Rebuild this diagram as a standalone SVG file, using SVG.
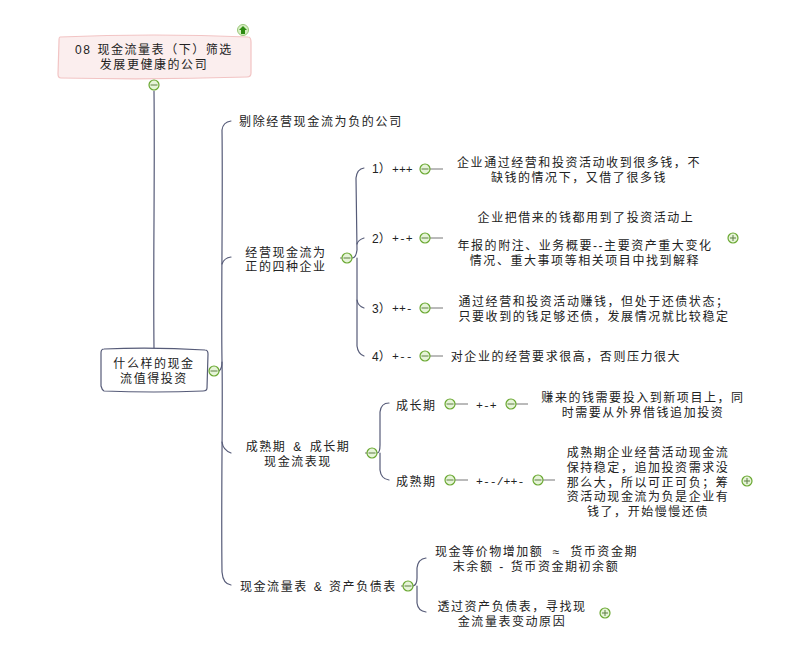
<svg xmlns="http://www.w3.org/2000/svg" width="800" height="658" viewBox="0 0 800 658">
<style>
text{font-family:"Liberation Sans","Noto Sans CJK SC",sans-serif;font-size:12px;letter-spacing:1.55px;fill:#222;text-anchor:middle}
.l{text-anchor:start}
.p{font-family:"Liberation Mono",monospace;font-size:11.5px;letter-spacing:0}
.c{fill:none;stroke:#565b78;stroke-width:1.2;stroke-linecap:round}
.t{fill:none;stroke:#777;stroke-width:1}
.i{fill:#e6f4d8;stroke:#6aa832;stroke-width:1.2}
.m{stroke:#5f7f45;stroke-width:1;fill:none}
</style>
<defs>
<g id="minus"><circle class="i" r="5"/><path class="m" d="M-3.5 0H3.5"/></g>
<g id="plus"><circle class="i" r="5"/><path class="m" d="M-3 0H3M0-3V3" stroke="#4c8f1c"/></g>
</defs>
<g id="connectors">
<path class="c" d="M154 91C155 180 153 260 154 349"/>
<path class="c" d="M219 371Q222 369 222 362C221 300 223 200 222 130Q223 122 231 121"/>
<path class="c" d="M222 362C223 400 221 500 222 572Q223 584 231 585"/>
<path class="c" d="M222 264Q224 258 231 257"/>
<path class="c" d="M222 442Q223 450 231 453"/>
<path class="c" d="M352 258Q356 258 357 250L356 178Q357 169 364 168"/>
<path class="c" d="M357 244Q358 240 364 238"/>
<path class="c" d="M357 258V300Q358 306 364 308"/>
<path class="c" d="M357 300V346Q358 354 364 356"/>
<path class="c" d="M377 453Q380 453 380 445V412Q381 403 389 403"/>
<path class="c" d="M380 453V470Q381 479 389 480"/>
<path class="c" d="M413 586Q417 585 417 578V568Q418 559 426 558"/>
<path class="c" d="M417 586V603Q418 611 426 612"/>
<path class="t" d="M430 169H443M430 238H443M430 308H443M430 356H443M455 404H468M516 404H528M455 480H468M543 480H555M340 258H342M365 453H367M401 586H403"/>
</g>
<g id="root">
<path d="M60 37Q154 33 248 37Q251 37 251 42L251 73Q251 77 247 77Q154 80 61 78Q58 78 58 74L59 41Q59 37 60 37Z" fill="#fbeeee" stroke="#f2c4c4" stroke-width="1.2"/>
<text x="154" y="54" style="word-spacing:1px">08 现金流量表（下）筛选</text>
<text x="154" y="69">发展更健康的公司</text>
<circle cx="243" cy="30" r="5.5" fill="#d8efc4" stroke="#9ac77a"/>
<path d="M243 26L247 30H245V34H241V30H239Z" fill="#2e8b12"/>
<use href="#minus" x="154" y="85"/>
</g>
<g id="center">
<path d="M104 349Q154 347 205 350Q208 350 208 354L207 388Q207 391 203 391Q154 393 104 391Q102 390 101 386L101 353Q101 349 104 349Z" fill="#fff" stroke="#565b78" stroke-width="1.2"/>
<text x="154" y="368">什么样的现金</text>
<text x="154" y="383">流值得投资</text>
<use href="#minus" x="214" y="371"/>
</g>
<g id="n1"><text class="l" x="239" y="126" style="letter-spacing:1.65px">剔除经营现金流为负的公司</text></g>
<g id="n2"><text x="286" y="257">经营现金流为</text><text x="286" y="271">正的四种企业</text><use href="#minus" x="347" y="258"/></g>
<g id="n21"><text class="l" x="372" y="173" style="letter-spacing:0">1）<tspan class="p" x="392" y="173">+++</tspan></text><use href="#minus" x="425" y="169"/></g>
<g id="n211"><text x="579" y="167">企业通过经营和投资活动收到很多钱，不</text><text x="579" y="182">缺钱的情况下，又借了很多钱</text></g>
<g id="n22"><text class="l" x="372" y="243" style="letter-spacing:0">2）<tspan class="p" x="392" y="242">+-+</tspan></text><use href="#minus" x="425" y="238"/></g>
<g id="n221"><text x="586" y="222">企业把借来的钱都用到了投资活动上</text><text x="585" y="250">年报的附注、业务概要--主要资产重大变化</text><text x="585" y="265">情况、重大事项等相关项目中找到解释</text><use href="#plus" x="733" y="238"/></g>
<g id="n23"><text class="l" x="372" y="313" style="letter-spacing:0">3）<tspan class="p" x="392" y="312">++-</tspan></text><use href="#minus" x="425" y="308"/></g>
<g id="n231"><text x="594" y="306">通过经营和投资活动赚钱，但处于还债状态；</text><text x="594" y="320.5">只要收到的钱足够还债，发展情况就比较稳定</text></g>
<g id="n24"><text class="l" x="372" y="361" style="letter-spacing:0">4）<tspan class="p" x="392" y="360">+--</tspan></text><use href="#minus" x="425" y="356"/></g>
<g id="n241"><text x="566" y="361">对企业的经营要求很高，否则压力很大</text></g>
<g id="n3"><text x="298" y="451" style="word-spacing:2px">成熟期 &amp; 成长期</text><text x="298" y="466">现金流表现</text><use href="#minus" x="372" y="453"/></g>
<g id="n31"><text class="l" x="396" y="410">成长期</text><use href="#minus" x="450" y="404"/></g>
<g id="n311"><text class="l p" x="476" y="409">+-+</text><use href="#minus" x="511" y="404"/></g>
<g id="n312"><text x="643" y="402">赚来的钱需要投入到新项目上，同</text><text x="643" y="417">时需要从外界借钱追加投资</text></g>
<g id="n32"><text class="l" x="396" y="486">成熟期</text><use href="#minus" x="450" y="480"/></g>
<g id="n321"><text class="l p" x="476" y="485">+--/++-</text><use href="#minus" x="538" y="480"/></g>
<g id="n322"><text x="648" y="457">成熟期企业经营活动现金流</text><text x="648" y="471.8">保持稳定，追加投资需求没</text><text x="648" y="486.6">那么大，所以可正可负；筹</text><text x="648" y="501.4">资活动现金流为负是企业有</text><text x="648" y="516.2">钱了，开始慢慢还债</text><use href="#plus" x="747" y="481"/></g>
<g id="n4"><text class="l" x="240" y="591" style="word-spacing:1px">现金流量表 &amp; 资产负债表</text><use href="#minus" x="408" y="586"/></g>
<g id="n41"><text x="536.5" y="556" style="word-spacing:4.5px">现金等价物增加额 ≈ 货币资金期</text><text x="536" y="571" style="word-spacing:1px">末余额 - 货币资金期初余额</text></g>
<g id="n42"><text x="512" y="611">透过资产负债表，寻找现</text><text x="512" y="626">金流量表变动原因</text><use href="#plus" x="605" y="613"/></g>
</svg>
